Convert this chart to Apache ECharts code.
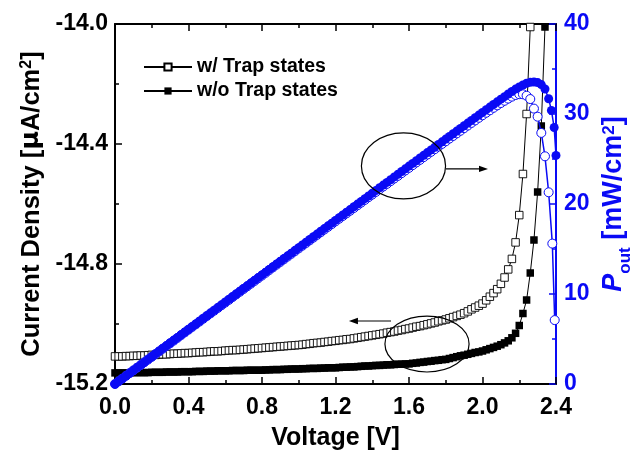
<!DOCTYPE html>
<html>
<head>
<meta charset="utf-8">
<script src="https://cdn.jsdelivr.net/npm/echarts@6/dist/echarts.min.js"></script>
<style>
html,body{margin:0;padding:0;background:#fff;overflow:hidden;}
#chart{width:632px;height:456px;}
</style>
</head>
<body>
<div id="chart"></div>
<script>
// ---- Data ----
const voltage = [
0.00,0.02,0.04,0.06,0.08,0.10,0.12,0.14,0.16,0.18,
0.20,0.22,0.24,0.26,0.28,0.30,0.32,0.34,0.36,0.38,
0.40,0.42,0.44,0.46,0.48,0.50,0.52,0.54,0.56,0.58,
0.60,0.62,0.64,0.66,0.68,0.70,0.72,0.74,0.76,0.78,
0.80,0.82,0.84,0.86,0.88,0.90,0.92,0.94,0.96,0.98,
1.00,1.02,1.04,1.06,1.08,1.10,1.12,1.14,1.16,1.18,
1.20,1.22,1.24,1.26,1.28,1.30,1.32,1.34,1.36,1.38,
1.40,1.42,1.44,1.46,1.48,1.50,1.52,1.54,1.56,1.58,
1.60,1.62,1.64,1.66,1.68,1.70,1.72,1.74,1.76,1.78,
1.80,1.82,1.84,1.86,1.88,1.90,1.92,1.94,1.96,1.98,
2.00,2.02,2.04,2.06,2.08,2.10,2.12,2.14,2.16,2.18,
2.20,2.22,2.24,2.26,2.28,2.30,2.32,2.34];

// Current density, w/ trap states (open squares)
const jWithTrap = [
-15.108,-15.108,-15.108,-15.107,-15.107,-15.106,-15.106,-15.105,-15.105,-15.104,
-15.103,-15.103,-15.102,-15.101,-15.101,-15.100,-15.099,-15.099,-15.098,-15.097,
-15.097,-15.096,-15.095,-15.094,-15.094,-15.093,-15.092,-15.091,-15.091,-15.090,
-15.089,-15.088,-15.087,-15.087,-15.086,-15.085,-15.084,-15.083,-15.082,-15.081,
-15.080,-15.079,-15.078,-15.077,-15.076,-15.075,-15.074,-15.073,-15.072,-15.071,
-15.070,-15.069,-15.067,-15.066,-15.064,-15.063,-15.062,-15.060,-15.059,-15.057,
-15.056,-15.054,-15.053,-15.051,-15.050,-15.048,-15.046,-15.044,-15.042,-15.040,
-15.038,-15.036,-15.034,-15.032,-15.029,-15.027,-15.025,-15.022,-15.020,-15.017,
-15.015,-15.012,-15.009,-15.007,-15.004,-15.001,-14.998,-14.995,-14.991,-14.988,
-14.985,-14.981,-14.977,-14.973,-14.969,-14.964,-14.958,-14.951,-14.945,-14.939,
-14.932,-14.921,-14.909,-14.897,-14.884,-14.866,-14.845,-14.818,-14.783,-14.728,
-14.637,-14.500,-14.300,-14.010];

// Current density, w/o trap states (filled squares)
const jWithoutTrap = [
-15.163,-15.163,-15.163,-15.163,-15.163,-15.162,-15.162,-15.162,-15.162,-15.162,
-15.161,-15.161,-15.161,-15.161,-15.160,-15.160,-15.160,-15.160,-15.159,-15.159,
-15.159,-15.159,-15.158,-15.158,-15.158,-15.157,-15.157,-15.157,-15.156,-15.156,
-15.156,-15.156,-15.155,-15.155,-15.155,-15.155,-15.154,-15.154,-15.154,-15.154,
-15.154,-15.153,-15.153,-15.152,-15.152,-15.152,-15.151,-15.151,-15.150,-15.150,
-15.150,-15.149,-15.149,-15.148,-15.148,-15.148,-15.147,-15.147,-15.146,-15.146,
-15.146,-15.145,-15.144,-15.144,-15.143,-15.143,-15.142,-15.141,-15.140,-15.140,
-15.139,-15.138,-15.138,-15.137,-15.136,-15.136,-15.135,-15.134,-15.134,-15.133,
-15.133,-15.131,-15.130,-15.128,-15.127,-15.125,-15.124,-15.122,-15.121,-15.119,
-15.118,-15.115,-15.112,-15.109,-15.106,-15.104,-15.101,-15.098,-15.095,-15.093,
-15.090,-15.086,-15.082,-15.078,-15.074,-15.069,-15.063,-15.056,-15.046,-15.031,
-15.005,-14.965,-14.920,-14.830,-14.720,-14.560,-14.340,-14.010];

// Output power, w/ trap states (open circles)
const pWithTrap = [
0.00,0.30,0.60,0.91,1.21,1.51,1.81,2.11,2.42,2.72,
3.02,3.32,3.62,3.93,4.23,4.53,4.83,5.13,5.44,5.74,
6.04,6.34,6.64,6.94,7.25,7.55,7.85,8.15,8.45,8.75,
9.05,9.35,9.66,9.96,10.26,10.56,10.86,11.16,11.46,11.76,
12.06,12.36,12.67,12.97,13.27,13.57,13.87,14.17,14.47,14.77,
15.07,15.37,15.67,15.97,16.27,16.57,16.87,17.17,17.47,17.77,
18.07,18.37,18.67,18.96,19.26,19.56,19.86,20.16,20.46,20.76,
21.05,21.35,21.65,21.95,22.24,22.54,22.84,23.13,23.43,23.73,
24.02,24.32,24.62,24.91,25.21,25.50,25.80,26.09,26.38,26.68,
26.97,27.27,27.56,27.85,28.14,28.43,28.72,29.01,29.29,29.58,
29.86,30.14,30.41,30.69,30.96,31.22,31.47,31.71,31.93,32.11,
32.20,32.19,32.03,31.66];
const pWithTrapTailV = [2.28,2.30,2.32,2.34,2.36,2.38,2.393];
const pWithTrapTail  = [30.6,29.7,27.9,25.3,21.3,15.6,7.1];

// Output power, w/o trap states (filled circles)
const pWithoutTrap = [
0.00,0.30,0.61,0.91,1.21,1.52,1.82,2.12,2.43,2.73,
3.03,3.34,3.64,3.94,4.24,4.55,4.85,5.15,5.46,5.76,
6.06,6.37,6.67,6.97,7.28,7.58,7.88,8.18,8.49,8.79,
9.09,9.40,9.70,10.00,10.31,10.61,10.91,11.21,11.52,11.82,
12.12,12.43,12.73,13.03,13.33,13.64,13.94,14.24,14.54,14.85,
15.15,15.45,15.76,16.06,16.36,16.66,16.97,17.27,17.57,17.87,
18.18,18.48,18.78,19.08,19.38,19.69,19.99,20.29,20.59,20.89,
21.19,21.50,21.80,22.10,22.40,22.70,23.01,23.31,23.61,23.91,
24.21,24.51,24.81,25.11,25.41,25.71,26.01,26.31,26.61,26.91,
27.21,27.51,27.81,28.10,28.40,28.70,28.99,29.29,29.59,29.88,
30.18,30.47,30.77,31.06,31.35,31.65,31.93,32.22,32.50,32.77,
33.01,33.22,33.42,33.52,33.56,33.49,33.27,32.78];
const pWithoutTrapTailV = [2.36,2.375,2.39,2.40];
const pWithoutTrapTail  = [31.7,30.4,28.5,25.4];

// Axis ticks
const xTicks = [0.0,0.4,0.8,1.2,1.6,2.0,2.4];
const jTicks = [-15.2,-14.8,-14.4,-14.0];
const pTicks = [0,10,20,30,40];

// Annotation ellipses/arrows, in (V, J) data units
const ellipses = [
  {v:1.570, j:-14.473, rv:0.229, rj:0.110},
  {v:1.698, j:-15.067, rv:0.229, rj:0.093}
];
const arrows = [
  {v1:1.801, v2:2.030, j:-14.483},
  {v1:1.502, v2:1.273, j:-14.990}
];

// ---- Chart ----
const FONT = '"Liberation Sans", Arial, sans-serif';
const BLUE = '#0a0af5';
const pairs = (xs, ys) => ys.map((y, i) => [xs[i], y]);

const chart = echarts.init(document.getElementById('chart'), null, {renderer: 'canvas', width: 632, height: 456});

const baseX = {
  type: 'value', min: xTicks[0], max: xTicks[xTicks.length - 1], interval: 0.4,
  splitLine: {show: false},
  axisLine: {show: true, onZero: false, lineStyle: {color: '#000', width: 2}},
  axisTick: {show: true, inside: true, length: 7, lineStyle: {color: '#000', width: 1.5}},
  minorTick: {show: true, splitNumber: 2, length: 4, lineStyle: {color: '#000', width: 1.5}},
};

chart.setOption({
  animation: false,
  backgroundColor: '#fff',
  grid: {left: 115, right: 76, top: 24, bottom: 72, containLabel: false, outerBoundsMode: 'none'},
  legend: {
    data: ['w/ Trap states', 'w/o Trap states'],
    orient: 'vertical', left: 138, top: 52,
    itemWidth: 48, itemHeight: 9, itemGap: 4,
    textStyle: {fontSize: 19.5, fontWeight: 'bold', color: '#000', fontFamily: FONT, lineHeight: 20}
  },
  xAxis: [
    Object.assign({}, baseX, {
      position: 'bottom',
      axisLabel: {show: true, fontSize: 23, fontWeight: 'bold', color: '#000', fontFamily: FONT, margin: 12,
        formatter: v => v.toFixed(1)},
      name: 'Voltage [V]', nameLocation: 'middle', nameGap: 42,
      nameTextStyle: {fontSize: 25, fontWeight: 'bold', color: '#000', fontFamily: FONT}
    }),
    Object.assign({}, baseX, {position: 'top', axisLabel: {show: false}})
  ],
  yAxis: [
    {
      type: 'value', min: jTicks[0], max: jTicks[jTicks.length - 1], interval: 0.4, position: 'left',
      splitLine: {show: false},
      axisLine: {show: true, onZero: false, lineStyle: {color: '#000', width: 2}},
      axisTick: {show: true, inside: true, length: 7, lineStyle: {color: '#000', width: 1.5}},
      minorTick: {show: true, splitNumber: 2, length: 4, lineStyle: {color: '#000', width: 1.5}},
      axisLabel: {fontSize: 23, fontWeight: 'bold', color: '#000', fontFamily: FONT, margin: 7,
        formatter: v => v.toFixed(1)},
      name: '{a|Current Density [}{m|\u00b5}{a|A/cm}{s|2}{a|]}',
      nameLocation: 'middle', nameGap: 70, nameRotate: 90,
      nameTextStyle: {
        rich: {
          a: {fontSize: 25.5, fontWeight: 'bold', color: '#000', fontFamily: FONT},
          m: {fontSize: 25.5, fontWeight: 'bold', color: '#000', fontFamily: '"DejaVu Sans", sans-serif'},
          s: {fontSize: 16, fontWeight: 'bold', color: '#000', fontFamily: FONT, verticalAlign: 'top'}
        }
      }
    },
    {
      type: 'value', min: pTicks[0], max: pTicks[pTicks.length - 1], interval: 10, position: 'right',
      splitLine: {show: false},
      axisLine: {show: true, onZero: false, lineStyle: {color: BLUE, width: 2}},
      axisTick: {show: true, inside: true, length: 7, lineStyle: {color: BLUE, width: 1.5}},
      minorTick: {show: true, splitNumber: 2, length: 4, lineStyle: {color: BLUE, width: 1.5}},
      axisLabel: {fontSize: 23, fontWeight: 'bold', color: BLUE, fontFamily: FONT, margin: 8},
      name: '{i|P}{o|out}{a| [mW/cm}{s|2}{a|]}',
      nameLocation: 'middle', nameGap: 40, nameRotate: 90,
      nameTextStyle: {
        rich: {
          i: {fontSize: 27, fontWeight: 'bold', fontStyle: 'italic', color: BLUE, fontFamily: FONT},
          o: {fontSize: 17, fontWeight: 'bold', color: BLUE, fontFamily: FONT, verticalAlign: 'bottom', padding: [0, 0, -6, 0]},
          a: {fontSize: 27, fontWeight: 'bold', color: BLUE, fontFamily: FONT},
          s: {fontSize: 17, fontWeight: 'bold', color: BLUE, fontFamily: FONT, verticalAlign: 'top'}
        }
      }
    }
  ],
  series: [
    {
      name: 'w/ Trap states', type: 'line', xAxisIndex: 0, yAxisIndex: 0,
      data: pairs(voltage, jWithTrap),
      symbol: 'rect', symbolSize: 7.5,
      itemStyle: {color: '#fff', borderColor: '#000', borderWidth: 0.9},
      lineStyle: {color: '#000', width: 1},
      z: 2
    },
    {
      name: 'w/o Trap states', type: 'line', xAxisIndex: 0, yAxisIndex: 0,
      data: pairs(voltage, jWithoutTrap),
      symbol: 'rect', symbolSize: 7.5,
      itemStyle: {color: '#000', borderWidth: 0},
      lineStyle: {color: '#000', width: 1},
      z: 3
    },
    {
      name: 'Pout w/ Trap states', type: 'line', xAxisIndex: 0, yAxisIndex: 1,
      data: pairs(voltage, pWithTrap).concat(pairs(pWithTrapTailV, pWithTrapTail)),
      symbol: 'circle', symbolSize: 9,
      itemStyle: {color: '#fff', borderColor: BLUE, borderWidth: 1},
      lineStyle: {color: BLUE, width: 1.5},
      z: 4
    },
    {
      name: 'Pout w/o Trap states', type: 'line', xAxisIndex: 0, yAxisIndex: 1,
      data: pairs(voltage, pWithoutTrap).concat(pairs(pWithoutTrapTailV, pWithoutTrapTail)),
      symbol: 'circle', symbolSize: 9,
      itemStyle: {color: BLUE, borderWidth: 0},
      lineStyle: {color: BLUE, width: 1.5},
      z: 5
    }
  ]
});

// Annotations placed through the chart's own scales
const toPx = (v, j) => chart.convertToPixel({xAxisIndex: 0, yAxisIndex: 0}, [v, j]);
const graphics = [];
ellipses.forEach(e => {
  const c = toPx(e.v, e.j);
  const r = toPx(e.v + e.rv, e.j + e.rj);
  graphics.push({
    type: 'ellipse', z: 100,
    shape: {cx: c[0], cy: c[1], rx: Math.abs(r[0] - c[0]), ry: Math.abs(c[1] - r[1])},
    style: {fill: null, stroke: '#000', lineWidth: 1.2}
  });
});
arrows.forEach(a => {
  const p1 = toPx(a.v1, a.j);
  const p2 = toPx(a.v2, a.j);
  const dir = Math.sign(p2[0] - p1[0]);
  graphics.push({
    type: 'line', z: 100,
    shape: {x1: p1[0], y1: p1[1], x2: p2[0] - dir * 6, y2: p2[1]},
    style: {stroke: '#000', lineWidth: 1.2}
  });
  graphics.push({
    type: 'polygon', z: 100,
    shape: {points: [[p2[0], p2[1]], [p2[0] - dir * 9, p2[1] - 3.2], [p2[0] - dir * 9, p2[1] + 3.2]]},
    style: {fill: '#000'}
  });
});
chart.setOption({graphic: graphics});
</script>
</body>
</html>
